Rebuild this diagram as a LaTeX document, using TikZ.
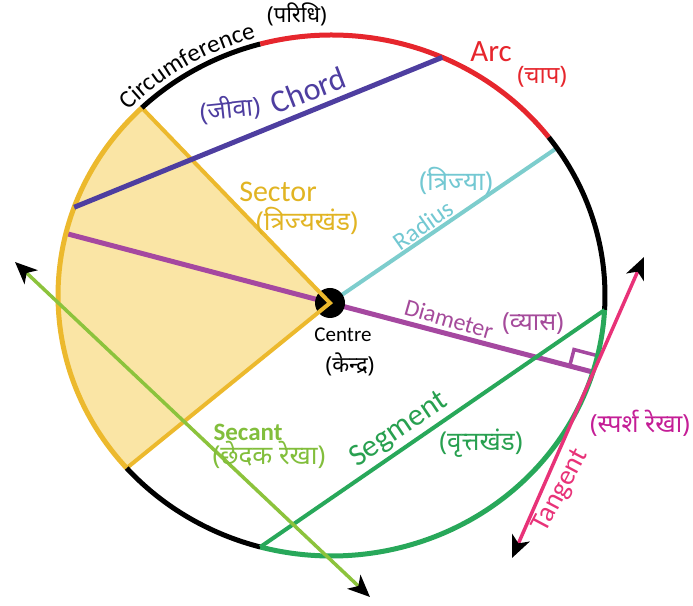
\documentclass[tikz,border=0pt]{standalone}
\usepackage{fontspec}
\setmainfont{Carlito}
\newfontfamily\dev[Script=Devanagari]{Noto Sans}
\usetikzlibrary{arrows.meta,decorations.text,calc}
\newcommand{\fsz}[1]{\fontsize{#1}{#1}\selectfont}
\definecolor{arcred}{RGB}{230,38,45}
\definecolor{chordc}{RGB}{78,62,160}
\definecolor{diamc}{RGB}{165,72,160}
\definecolor{radc}{RGB}{125,205,205}
\definecolor{segc}{RGB}{40,168,90}
\definecolor{secc}{RGB}{140,195,60}
\definecolor{tanc}{RGB}{232,50,120}
\definecolor{tanlab}{RGB}{196,30,150}
\definecolor{sectfill}{RGB}{250,229,165}
\definecolor{sectc}{RGB}{236,185,45}
\definecolor{sectlab}{RGB}{225,180,35}
\definecolor{radlab}{RGB}{115,200,210}
\definecolor{seclab}{RGB}{130,190,60}
\definecolor{seglab}{RGB}{40,160,80}
\definecolor{diamlab}{RGB}{165,75,155}
\tikzset{
  blk/.tip={Stealth[length=22pt,width=19pt,inset=6pt,color=black]},
  dbl/.style={blk-blk},
  lab/.style={inner sep=0pt},
  rim/.style={line width=5pt},
}
\begin{document}
\begin{tikzpicture}[x=1pt,y=1pt]
\useasboundingbox (0,0) rectangle (693,605);
\def\rx{273.5}\def\ry{260.5}
\coordinate (O) at (331.5,309.5);
\coordinate (C) at (330,302);
\coordinate (sA) at ($(O)+(133.9:\rx pt and \ry pt)$);
\coordinate (sB) at ($(O)+(221.5:\rx pt and \ry pt)$);
\coordinate (t1) at ($(O)+(105.1:\rx pt and \ry pt)$);
\coordinate (t2) at ($(O)+(37.4:\rx pt and \ry pt)$);
\coordinate (t3) at ($(O)+(-3.2:\rx pt and \ry pt)$);
\coordinate (t4) at ($(O)+(-105.1:\rx pt and \ry pt)$);
\coordinate (ch1) at ($(O)+(160.2:\rx pt and \ry pt)$);
\coordinate (ch2) at ($(O)+(66.1:\rx pt and \ry pt)$);
\coordinate (radE) at ($(O)+(34.5:\rx pt and \ry pt)$);
\coordinate (dR) at ($(O)+(-17.1:\rx pt and \ry pt)$);
\coordinate (dL) at (68,371);
\coordinate (sec1) at (15,343);
\coordinate (sec2) at (370,8);
\coordinate (tan1) at (644,348);
\coordinate (tan2) at (512,47);

% sector fill
\fill[sectfill] (C) -- (sA) arc[start angle=133.9, end angle=221.5, x radius=\rx pt, y radius=\ry pt] -- cycle;
% radius and diameter
\draw[radc, line width=4pt] (C) -- (radE);
\draw[diamc, line width=5pt] (dL) -- (dR);
\draw[diamc, line width=3.5pt] ($(dR)!24pt!(C)$) coordinate (q1) -- ($(q1)!17pt!90:(dR)$) -- ($(dR)!17pt!-90:(C)$);
% centre dot
\fill[black] (C) circle[radius=15pt];
% sector border
\draw[sectc, line width=4pt, line join=miter] (sA) -- (C) -- (sB);
\draw[sectc, rim] (sA) arc[start angle=133.9, end angle=221.5, x radius=\rx pt, y radius=\ry pt];
% circumference arcs
\draw[black, rim] (t1) arc[start angle=105.1, end angle=133.9, x radius=\rx pt, y radius=\ry pt];
\draw[arcred, rim] (t2) arc[start angle=37.4, end angle=105.1, x radius=\rx pt, y radius=\ry pt];
\draw[black, rim] (t3) arc[start angle=-3.2, end angle=37.4, x radius=\rx pt, y radius=\ry pt];
\draw[segc, rim] (t4) arc[start angle=-105.1, end angle=-3.2, x radius=\rx pt, y radius=\ry pt];
\draw[black, rim] (sB) arc[start angle=221.5, end angle=254.9, x radius=\rx pt, y radius=\ry pt];
% chord, segment chord
\draw[chordc, line width=5pt] (ch1) -- (ch2);
\draw[segc, line width=4pt] (t4) -- (t3);
% secant and tangent
\draw[secc, line width=3.5pt, dbl] (sec1) -- (sec2);
\draw[tanc, line width=3.5pt, dbl] (tan1) -- (tan2);

% labels
\path[decorate, decoration={text along path, text={|\fsz{25}|Circumference}, text align=center}]
  ($(O)+(137:280.5pt and 267.5pt)$) arc[start angle=137, end angle=105, x radius=280.5pt, y radius=267.5pt];
\node[lab, text=black, font=\dev\bfseries\fsz{22}] (paridhi) at (297,591) {(परिधि)};
\node[lab, text=arcred, font=\fsz{31}] (arc) at (491,553) {Arc};
\node[lab, text=arcred, font=\dev\fsz{24}] (chap) at (542,528) {(चाप)};
\node[lab, text=chordc, font=\fsz{32}, rotate=21] (chord) at (308,515) {Chord};
\node[lab, text=chordc, font=\dev\fsz{25}, rotate=6] (jiva) at (230,496) {(जीवा)};
\node[lab, text=sectlab, font=\fsz{30}] (sector) at (278,413) {Sector};
\node[lab, text=sectlab, font=\dev\fsz{26}] (trijyakhand) at (307,384) {(त्रिज्यखंड)};
\node[lab, text=radlab, font=\dev\fsz{26}] (trijya) at (456,424) {(त्रिज्या)};
\node[lab, text=radlab, font=\fsz{25}, rotate=35] (radius) at (423,380) {Radius};
\node[lab, text=black, font=\fsz{21}] (centre) at (343,270) {Centre};
\node[lab, text=black, font=\dev\bfseries\fsz{22}] (kendra) at (350,241) {(केन्द्र)};
\node[lab, text=diamlab, font=\fsz{24}, rotate=-16] (diameter) at (449,286) {Diameter};
\node[lab, text=diamlab, font=\dev\fsz{25}] (vyas) at (533,281) {(व्यास)};
\node[lab, text=seclab, font=\bfseries\fsz{25}] (secant) at (248,173) {Secant};
\node[lab, text=seclab, font=\dev\fsz{26}] (chhedak) at (269,150) {(छेदक रेखा)};
\node[lab, text=seglab, font=\fsz{31}, rotate=34] (segment) at (399,175) {Segment};
\node[lab, text=seglab, font=\dev\fsz{26}] (vritta) at (481,162) {(वृत्तखंड)};
\node[lab, text=tanc, font=\fsz{28}, rotate=62] (tangent) at (561,114) {Tangent};
\node[lab, text=tanlab, font=\dev\fsz{25}] (sparsh) at (640,182) {(स्पर्श रेखा)};
\end{tikzpicture}
\end{document}
